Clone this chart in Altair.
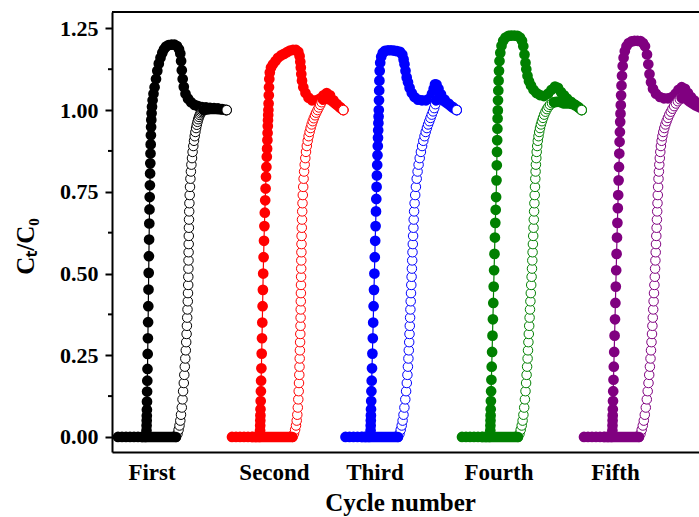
import json

import altair as alt
import pandas as pd

# ---- categories, colours, axis values ---------------------------------------
CYCLES = ["First", "Second", "Third", "Fourth", "Fifth"]
COLORS = ["#000000", "#ff0000", "#0000ff", "#008000", "#800080"]
LABEL_T = [39.5, 162, 262.5, 386.5, 503]          # where each cycle name sits on the time axis
T_MAX = 587
C_MIN, C_MAX = -0.046, 1.3
MAJOR_TICKS = [0, 0.25, 0.5, 0.75, 1.0, 1.25]
MINOR_TICKS = [0.125, 0.375, 0.625, 0.875, 1.125]

# ---- filled circles: (time, Ct/C0) for each cycle ---------------------------
FILLED_FIRST = [
    (6, 0), (10, 0), (14, 0), (18, 0), (22, 0), (26, 0), (30, 0), (33.5, 0),
    (34.3, 0.008), (34.5, 0.02), (34.6, 0.035), (34.7, 0.05), (34.8, 0.065), (34.9, 0.083),
    (35.0, 0.108), (35.1, 0.139), (35.3, 0.172), (35.5, 0.208), (35.7, 0.254), (35.9, 0.302),
    (36.1, 0.351), (36.3, 0.4), (36.5, 0.451), (36.7, 0.502), (36.9, 0.553), (37.1, 0.604),
    (37.3, 0.653), (37.5, 0.696), (37.7, 0.734), (37.9, 0.77), (38.1, 0.806), (38.3, 0.837),
    (38.5, 0.867), (38.7, 0.895), (38.9, 0.923), (39.1, 0.948), (39.3, 0.97), (39.6, 0.99),
    (40.0, 1.01), (40.6, 1.03), (41.5, 1.05), (42.6, 1.07), (44.0, 1.095), (45.3, 1.12),
    (46.8, 1.142), (48.5, 1.16), (50.3, 1.175), (52.0, 1.186), (54.0, 1.194), (56.5, 1.199),
    (59.5, 1.2), (62.5, 1.2), (65.0, 1.196), (67.0, 1.186), (68.3, 1.173), (69.1, 1.15),
    (69.8, 1.122), (70.7, 1.095), (71.8, 1.071), (73.5, 1.05), (76.0, 1.035), (79.0, 1.024),
    (82.5, 1.016), (86.0, 1.012), (90.0, 1.009), (94.0, 1.008), (98.0, 1.007), (102.0, 1.006),
    (106.0, 1.005), (110.0, 1.003), (114.0, 1.0),
]
FILLED_SECOND = [
    (120, 0), (124, 0), (128, 0), (132, 0), (136, 0), (140, 0), (144, 0), (147.5, 0),
    (148.0, 0.008), (148.1, 0.02), (148.2, 0.035), (148.3, 0.05), (148.4, 0.066), (148.5, 0.085),
    (148.7, 0.11), (148.9, 0.14), (149.1, 0.172), (149.4, 0.21), (149.7, 0.255), (150.0, 0.302),
    (150.3, 0.35), (150.6, 0.4), (150.9, 0.45), (151.2, 0.5), (151.6, 0.55), (152.0, 0.6),
    (152.4, 0.645), (152.8, 0.686), (153.2, 0.724), (153.6, 0.76), (154.0, 0.796), (154.4, 0.826),
    (154.8, 0.857), (155.1, 0.882), (155.4, 0.908), (155.6, 0.93), (155.8, 0.951), (156.0, 0.969),
    (156.2, 0.985), (156.4, 1.0), (156.6, 1.02), (156.8, 1.045), (157.0, 1.07), (157.3, 1.095),
    (157.8, 1.115), (159.0, 1.13), (161.0, 1.14), (163.5, 1.15), (166.0, 1.16), (169.0, 1.167),
    (172.0, 1.172), (175.0, 1.177), (178.0, 1.182), (181.0, 1.184), (184.0, 1.184), (186.3, 1.178),
    (187.6, 1.165), (188.3, 1.148), (188.8, 1.13), (189.3, 1.11), (190.0, 1.09), (191.3, 1.07),
    (193.5, 1.052), (196.5, 1.038), (200.0, 1.03), (204.0, 1.03), (208.0, 1.035), (211.5, 1.045),
    (214.7, 1.052), (218.0, 1.045), (221.5, 1.03), (225.0, 1.018), (228.5, 1.008), (231.3, 1.0),
]
FILLED_THIRD = [
    (233.5, 0), (237.5, 0), (241.5, 0), (245.5, 0), (249.5, 0), (253.5, 0), (257.0, 0),
    (258.5, 0.008), (258.6, 0.02), (258.7, 0.035), (258.8, 0.05), (258.9, 0.066), (259.0, 0.085),
    (259.2, 0.11), (259.4, 0.14), (259.7, 0.172), (260.0, 0.21), (260.4, 0.255), (260.8, 0.302),
    (261.2, 0.35), (261.6, 0.4), (262.0, 0.45), (262.4, 0.5), (262.8, 0.55), (263.2, 0.6),
    (263.6, 0.645), (264.0, 0.69), (264.3, 0.728), (264.6, 0.765), (264.9, 0.8), (265.2, 0.832),
    (265.5, 0.862), (265.8, 0.89), (266.0, 0.915), (266.2, 0.938), (266.4, 0.96), (266.6, 0.98),
    (266.8, 1.0), (267.0, 1.03), (267.2, 1.06), (267.4, 1.09), (267.7, 1.12), (268.2, 1.145),
    (269.2, 1.163), (270.8, 1.175), (273.0, 1.181), (276.0, 1.183), (279.0, 1.183), (282.0, 1.182),
    (285.0, 1.18), (288.0, 1.178), (290.3, 1.17), (291.6, 1.155), (292.5, 1.14), (293.5, 1.12),
    (294.7, 1.1), (296.0, 1.085), (297.6, 1.068), (299.8, 1.052), (302.5, 1.04), (306.0, 1.032),
    (310.0, 1.03), (314.0, 1.03), (317.5, 1.035), (320.0, 1.05), (321.7, 1.065), (323.0, 1.079),
    (324.5, 1.078), (326.5, 1.065), (329.0, 1.048), (332.5, 1.032), (336.5, 1.02), (340.5, 1.01),
    (344.7, 1.0),
]
FILLED_FOURTH = [
    (350, 0), (354, 0), (358, 0), (362, 0), (366, 0), (370, 0), (374, 0), (377.5, 0),
    (378.2, 0.008), (378.3, 0.02), (378.4, 0.035), (378.5, 0.05), (378.6, 0.066), (378.7, 0.085),
    (378.9, 0.11), (379.1, 0.14), (379.4, 0.175), (379.7, 0.215), (380.1, 0.26), (380.5, 0.31),
    (380.9, 0.36), (381.3, 0.41), (381.7, 0.46), (382.1, 0.51), (382.5, 0.56), (382.9, 0.61),
    (383.3, 0.655), (383.7, 0.695), (384.1, 0.734), (384.5, 0.785), (384.8, 0.831), (385.0, 0.872),
    (385.2, 0.908), (385.4, 0.943), (385.6, 0.974), (385.8, 0.999), (386.0, 1.03), (386.3, 1.06),
    (386.6, 1.09), (387.0, 1.12), (387.5, 1.15), (388.3, 1.175), (389.5, 1.197), (391.2, 1.212),
    (393.5, 1.222), (396.5, 1.227), (399.5, 1.228), (402.5, 1.228), (405.5, 1.227), (408.0, 1.222),
    (410.0, 1.212), (411.3, 1.195), (412.5, 1.17), (413.5, 1.145), (414.3, 1.125), (415.5, 1.105),
    (417.0, 1.088), (419.0, 1.075), (421.5, 1.062), (424.5, 1.052), (428.0, 1.046), (432.0, 1.043),
    (436.0, 1.05), (439.5, 1.062), (443.0, 1.072), (446.0, 1.068), (449.0, 1.055), (452.0, 1.045),
    (455.0, 1.035), (459.0, 1.025), (463.0, 1.015), (466.5, 1.008), (469.7, 1.0),
]
FILLED_FIFTH = [
    (472, 0), (476, 0), (480, 0), (484, 0), (488, 0), (492, 0), (496, 0), (499.5, 0),
    (500.3, 0.008), (500.4, 0.02), (500.5, 0.035), (500.6, 0.05), (500.7, 0.066), (500.8, 0.085),
    (501.0, 0.11), (501.2, 0.14), (501.5, 0.175), (501.8, 0.215), (502.2, 0.26), (502.6, 0.31),
    (503.0, 0.36), (503.4, 0.41), (503.8, 0.46), (504.2, 0.51), (504.6, 0.56), (505.0, 0.61),
    (505.4, 0.655), (505.8, 0.7), (506.2, 0.74), (506.6, 0.785), (507.0, 0.826), (507.3, 0.867),
    (507.6, 0.903), (507.9, 0.933), (508.2, 0.964), (508.5, 0.989), (508.8, 1.015), (509.1, 1.045),
    (509.5, 1.075), (510.0, 1.105), (510.7, 1.135), (511.6, 1.16), (512.8, 1.18), (514.5, 1.195),
    (516.7, 1.205), (519.5, 1.21), (522.5, 1.212), (525.5, 1.212), (528.5, 1.211), (531.0, 1.205),
    (533.0, 1.195), (535.0, 1.17), (536.3, 1.14), (537.5, 1.11), (539.0, 1.085), (541.0, 1.065),
    (544.0, 1.05), (548.0, 1.04), (552.0, 1.036), (556.0, 1.036), (560.0, 1.04), (563.5, 1.05),
    (566.5, 1.062), (569.7, 1.07), (573.0, 1.065), (576.0, 1.052), (579.0, 1.04), (582.0, 1.03),
    (585.0, 1.02), (588.0, 1.012), (592.0, 1.006),
]

# ---- open circles: baseline start, rising branch, and tail for each cycle ----
OPEN_START = [30, 140, 250, 370, 492]

OPEN_RISE_FIRST = [
    (64.0, 0), (65.5, 0.01), (66.6, 0.022), (67.5, 0.035), (68.3, 0.05), (69.0, 0.068), (69.8, 0.09),
    (70.5, 0.115), (71.1, 0.14), (71.8, 0.165), (72.3, 0.19), (72.8, 0.215), (73.3, 0.24),
    (73.8, 0.265), (74.2, 0.29), (74.6, 0.315), (74.9, 0.34), (75.2, 0.365), (75.5, 0.39),
    (75.8, 0.415), (76.0, 0.44), (76.2, 0.465), (76.3, 0.49), (76.4, 0.515), (76.5, 0.54),
    (76.6, 0.565), (76.7, 0.59), (76.8, 0.615), (76.9, 0.64), (77.0, 0.665), (77.2, 0.69),
    (77.4, 0.715), (77.7, 0.74), (78.0, 0.765), (78.4, 0.79), (78.9, 0.812), (79.4, 0.833),
    (80.0, 0.853), (80.6, 0.872), (81.3, 0.89), (82.0, 0.906), (82.7, 0.92), (83.4, 0.933),
    (84.1, 0.945), (84.8, 0.955), (85.5, 0.964), (86.2, 0.972), (87.0, 0.979), (87.8, 0.985),
    (88.6, 0.99), (89.5, 0.994), (90.5, 0.997), (91.5, 1.0),
]
OPEN_TAIL_FIRST = [(91.5, 1.0), (98.0, 1.003), (104.0, 1.003), (110.0, 1.002), (114.7, 1.0)]

OPEN_RISE_SECOND = [
    (180.5, 0), (182.0, 0.01), (183.1, 0.022), (184.0, 0.035), (184.7, 0.05), (185.3, 0.068),
    (185.8, 0.09), (186.3, 0.115), (186.7, 0.14), (187.0, 0.165), (187.3, 0.19), (187.5, 0.215),
    (187.7, 0.24), (187.9, 0.265), (188.1, 0.29), (188.3, 0.315), (188.5, 0.34), (188.6, 0.365),
    (188.7, 0.39), (188.8, 0.415), (188.9, 0.44), (189.0, 0.465), (189.1, 0.49), (189.2, 0.515),
    (189.3, 0.54), (189.4, 0.565), (189.5, 0.59), (189.6, 0.615), (189.8, 0.64), (190.0, 0.665),
    (190.2, 0.69), (190.5, 0.715), (190.8, 0.74), (191.2, 0.765), (191.6, 0.79), (192.1, 0.812),
    (192.7, 0.833), (193.3, 0.853), (194.0, 0.872), (194.8, 0.89), (195.7, 0.906), (196.6, 0.92),
    (197.6, 0.933), (198.6, 0.945), (199.6, 0.956), (200.7, 0.966), (201.8, 0.975), (203.0, 0.984),
    (204.2, 0.992), (205.5, 1.0), (206.8, 1.008), (208.2, 1.016), (209.6, 1.024), (211.0, 1.032),
]
OPEN_TAIL_SECOND = [(211.0, 1.032), (215.0, 1.036), (219.0, 1.03), (223.0, 1.02), (227.0, 1.01), (231.3, 1.0)]

OPEN_RISE_THIRD = [
    (286.0, 0), (287.5, 0.01), (288.7, 0.022), (289.7, 0.035), (290.6, 0.05), (291.5, 0.068),
    (292.4, 0.09), (293.3, 0.115), (294.1, 0.14), (294.8, 0.165), (295.4, 0.19), (295.9, 0.215),
    (296.4, 0.24), (296.8, 0.265), (297.2, 0.29), (297.5, 0.315), (297.8, 0.34), (298.1, 0.365),
    (298.4, 0.39), (298.7, 0.415), (299.0, 0.44), (299.3, 0.465), (299.6, 0.49), (299.9, 0.515),
    (300.2, 0.54), (300.5, 0.565), (300.8, 0.59), (301.1, 0.615), (301.4, 0.64), (301.7, 0.665),
    (302.1, 0.69), (302.6, 0.715), (303.2, 0.74), (303.9, 0.765), (304.7, 0.79), (305.6, 0.812),
    (306.6, 0.833), (307.7, 0.853), (308.9, 0.872), (310.1, 0.89), (311.3, 0.906), (312.5, 0.92),
    (313.7, 0.933), (314.9, 0.945), (316.1, 0.956), (317.3, 0.966), (318.5, 0.976), (319.7, 0.986),
    (321.0, 0.996), (322.2, 1.006), (323.3, 1.018), (324.2, 1.03),
]
OPEN_TAIL_THIRD = [(324.2, 1.03), (328.0, 1.035), (332.0, 1.028), (336.5, 1.018), (340.5, 1.008), (344.7, 1.0)]

OPEN_RISE_FOURTH = [
    (406.0, 0), (407.5, 0.01), (408.7, 0.022), (409.7, 0.035), (410.6, 0.05), (411.4, 0.068),
    (412.2, 0.09), (412.9, 0.115), (413.5, 0.14), (414.1, 0.165), (414.6, 0.19), (415.1, 0.215),
    (415.6, 0.24), (416.0, 0.265), (416.4, 0.29), (416.8, 0.315), (417.2, 0.34), (417.6, 0.365),
    (418.0, 0.39), (418.4, 0.415), (418.8, 0.44), (419.2, 0.465), (419.6, 0.49), (420.0, 0.515),
    (420.3, 0.54), (420.6, 0.565), (420.9, 0.59), (421.2, 0.615), (421.5, 0.64), (421.8, 0.665),
    (422.1, 0.69), (422.4, 0.715), (422.7, 0.74), (423.0, 0.765), (423.3, 0.79), (423.6, 0.812),
    (423.9, 0.833), (424.3, 0.853), (424.7, 0.872), (425.2, 0.89), (425.8, 0.906), (426.5, 0.92),
    (427.2, 0.933), (428.0, 0.945), (428.9, 0.956), (429.9, 0.966), (431.0, 0.976), (432.2, 0.986),
    (433.5, 0.995), (434.9, 1.003), (436.4, 1.01), (438.0, 1.016), (440.0, 1.021), (442.0, 1.024),
]
OPEN_TAIL_FOURTH = [(442.0, 1.024), (447.0, 1.026), (452.0, 1.02), (457.0, 1.02), (462.0, 1.018), (466.0, 1.01), (469.7, 1.0)]

OPEN_RISE_FIFTH = [
    (527.0, 0), (528.5, 0.01), (529.7, 0.022), (530.8, 0.035), (531.8, 0.05), (532.8, 0.068),
    (533.8, 0.09), (534.8, 0.115), (535.7, 0.14), (536.5, 0.165), (537.2, 0.19), (537.9, 0.215),
    (538.5, 0.24), (539.0, 0.265), (539.5, 0.29), (540.0, 0.315), (540.4, 0.34), (540.8, 0.365),
    (541.2, 0.39), (541.6, 0.415), (542.0, 0.44), (542.4, 0.465), (542.8, 0.49), (543.1, 0.515),
    (543.4, 0.54), (543.7, 0.565), (544.0, 0.59), (544.3, 0.615), (544.6, 0.64), (544.9, 0.665),
    (545.2, 0.69), (545.5, 0.715), (545.8, 0.74), (546.1, 0.765), (546.5, 0.79), (546.9, 0.812),
    (547.3, 0.833), (547.8, 0.853), (548.3, 0.872), (548.9, 0.89), (549.6, 0.906), (550.4, 0.92),
    (551.3, 0.933), (552.3, 0.945), (553.4, 0.956), (554.6, 0.966), (555.9, 0.976), (557.3, 0.986),
    (558.8, 0.995), (560.4, 1.004), (562.1, 1.012), (563.9, 1.02), (565.8, 1.027), (567.8, 1.033),
    (569.8, 1.037),
]
OPEN_TAIL_FIFTH = [(569.8, 1.037), (574.0, 1.035), (578.0, 1.025), (583.0, 1.015), (588.0, 1.008), (593.0, 1.003)]

# ---- tables -------------------------------------------------------------------
filled_sets = [FILLED_FIRST, FILLED_SECOND, FILLED_THIRD, FILLED_FOURTH, FILLED_FIFTH]
rise_sets = [OPEN_RISE_FIRST, OPEN_RISE_SECOND, OPEN_RISE_THIRD, OPEN_RISE_FOURTH, OPEN_RISE_FIFTH]
tail_sets = [OPEN_TAIL_FIRST, OPEN_TAIL_SECOND, OPEN_TAIL_THIRD, OPEN_TAIL_FOURTH, OPEN_TAIL_FIFTH]

filled_rows, trail_rows, ring_rows, end_rows = [], [], [], []
for name, start, pts, rise, tail in zip(CYCLES, OPEN_START, filled_sets, rise_sets, tail_sets):
    for i, (t, c) in enumerate(pts):
        filled_rows.append({"cycle": name, "t": t, "c": c, "i": i})
    # dense open-symbol runs (flat baseline and tail) render as a solid trail
    for i, (t, c) in enumerate([(start, 0.0), rise[0]]):
        trail_rows.append({"cycle": name, "seg": name + " base", "t": t, "c": c, "i": i})
    for i, (t, c) in enumerate(tail):
        trail_rows.append({"cycle": name, "seg": name + " tail", "t": t, "c": c, "i": i})
    for i, (t, c) in enumerate(rise):
        ring_rows.append({"cycle": name, "t": t, "c": c, "i": i})
    end_rows.append({"cycle": name, "t": tail[-1][0], "c": tail[-1][1]})

filled_df = pd.DataFrame(filled_rows)
trail_df = pd.DataFrame(trail_rows)
ring_df = pd.DataFrame(ring_rows)
end_df = pd.DataFrame(end_rows)

# ---- encodings -----------------------------------------------------------------
FONT = "Liberation Serif"
label_expr = f"{json.dumps(CYCLES)}[indexof({json.dumps(LABEL_T)}, datum.value)]"

x_enc = alt.X(
    "t:Q",
    scale=alt.Scale(domain=[0, T_MAX], nice=False, zero=False),
    axis=alt.Axis(
        values=LABEL_T, labelExpr=label_expr, ticks=False, tickSize=0, grid=False,
        labelFontSize=23, labelPadding=9, labelOverlap=False, labelFlush=False,
        title="Cycle number", titleFontSize=25, titleX=288, titleY=58,
        titleBaseline="alphabetic", titleAlign="center",
    ),
)
y_enc = alt.Y(
    "c:Q",
    scale=alt.Scale(domain=[C_MIN, C_MAX], nice=False, zero=False),
    axis=alt.Axis(
        values=MAJOR_TICKS, format=".2f", tickSize=7, grid=False,
        labelFontSize=22, labelPadding=7, labelFlush=False, labelOverlap=False,
        title="Cₜ/C₀", titleFontSize=25, titleAngle=270, titleX=-79, titleY=234,
        titleBaseline="alphabetic", titleAlign="center",
    ),
)
color_scale = alt.Scale(domain=CYCLES, range=COLORS)
color_enc = alt.Color("cycle:N", scale=color_scale, legend=None)
stroke_enc = alt.Stroke("cycle:N", scale=color_scale, legend=None)

filled_line = alt.Chart(filled_df).mark_line(strokeWidth=1.2, clip=True).encode(
    x=x_enc, y=y_enc, color=color_enc, detail="cycle:N", order="i:Q"
)
filled_dots = alt.Chart(filled_df).mark_circle(size=115, opacity=1, clip=True).encode(
    x=x_enc, y=y_enc, color=color_enc
)
rise_rings = alt.Chart(ring_df).mark_point(
    shape="circle", size=90, fill="white", fillOpacity=1, strokeWidth=1, opacity=1, clip=True
).encode(x=x_enc, y=y_enc, stroke=stroke_enc)
open_trail = alt.Chart(trail_df).mark_line(
    strokeWidth=10.5, strokeCap="round", strokeJoin="round", clip=True
).encode(x=x_enc, y=y_enc, color=color_enc, detail="seg:N", order="i:Q")
end_rings = alt.Chart(end_df).mark_point(
    shape="circle", size=90, fill="white", fillOpacity=1, strokeWidth=1, opacity=1, clip=True
).encode(x=x_enc, y=y_enc, stroke=stroke_enc)

minor_ticks = alt.Chart(pd.DataFrame({"c": MINOR_TICKS})).mark_rule(
    color="black", strokeWidth=2
).encode(y=y_enc, x=alt.value(-4), x2=alt.value(0))

top_edge = alt.Chart(pd.DataFrame({"edge": [0]})).mark_rule(
    color="black", strokeWidth=2
).encode(x=alt.value(0), x2=alt.value(T_MAX), y=alt.value(0))

chart = (
    alt.layer(filled_line, filled_dots, rise_rings, open_trail, end_rings, minor_ticks, top_edge)
    .properties(
        width=587, height=440,
        autosize=alt.AutoSizeParams(type="none"),
        padding={"left": 112, "top": 12, "right": 0, "bottom": 65},
        background="white",
    )
    .configure_view(stroke=None)
    .configure_axis(
        domainColor="black", domainWidth=2, tickColor="black", tickWidth=2,
        labelColor="black", titleColor="black",
        labelFont=FONT, titleFont=FONT, labelFontWeight="bold", titleFontWeight="bold",
    )
)

chart.save("out.html", embed_options={"renderer": "svg", "actions": False})
